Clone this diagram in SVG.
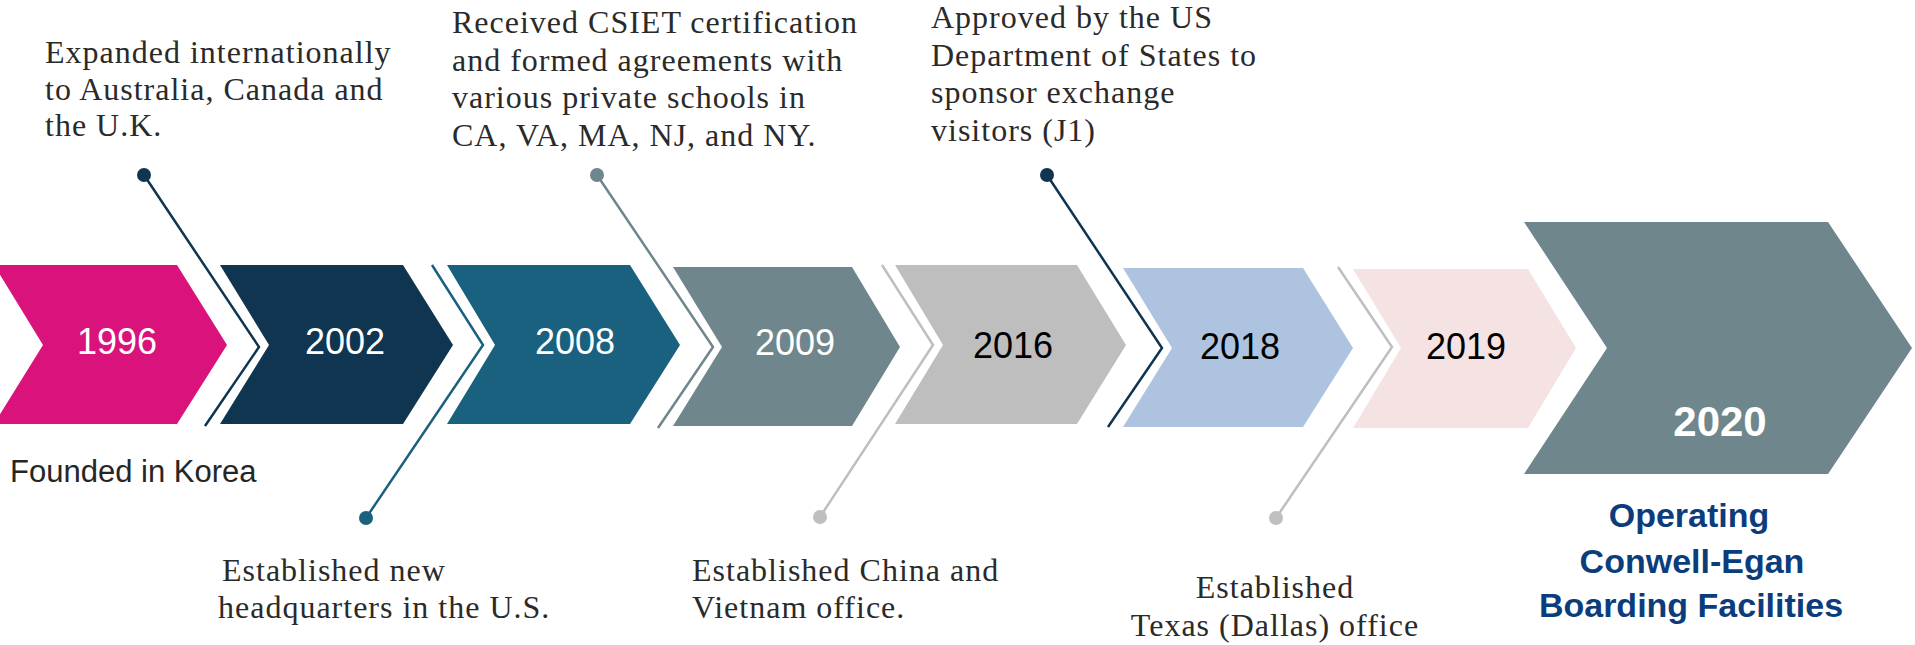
<svg xmlns="http://www.w3.org/2000/svg" width="1915" height="645" viewBox="0 0 1915 645">
<style>
.yr{font-family:"Liberation Sans",Arial,sans-serif;font-size:36px;text-anchor:middle}
.w{fill:#ffffff}
.k{fill:#000000}
.ser{font-family:"Liberation Serif","Times New Roman",serif;font-size:32px;letter-spacing:1px;fill:#2a2a2a}
.sans{font-family:"Liberation Sans",Arial,sans-serif;font-size:31px;fill:#262626}
.op{font-family:"Liberation Sans",Arial,sans-serif;font-size:34px;font-weight:bold;fill:#0B3D7C;text-anchor:middle}
.ln{fill:none;stroke-width:2.5;stroke-linejoin:miter}
</style>
<rect width="1915" height="645" fill="#ffffff"/>
<g id="n1996">
<polygon points="-6,265 177,265 227,345 177,424 -6,424 43,345" fill="#D9127C"/>
<text class="yr w" x="117" y="354">1996</text>
</g>
<g id="n2002">
<polygon points="220,265 403,265 453,345 403,424 220,424 269,345" fill="#0F3550"/>
<text class="yr w" x="345" y="354">2002</text>
</g>
<g id="n2008">
<polygon points="447,265 630,265 680,345 630,424 447,424 495,345" fill="#1A617F"/>
<text class="yr w" x="575" y="354">2008</text>
</g>
<g id="n2009">
<polygon points="673,267 852,267 900,347 852,426 673,426 722,347" fill="#6F868C"/>
<text class="yr w" x="795" y="355">2009</text>
</g>
<g id="n2016">
<polygon points="895,265 1077,265 1126,345 1077,424 895,424 943,345" fill="#BEBEBE"/>
<text class="yr k" x="1013" y="358">2016</text>
</g>
<g id="n2018">
<polygon points="1123,268 1303,268 1353,348 1303,427 1123,427 1172,348" fill="#ADC3E0"/>
<text class="yr k" x="1240" y="359">2018</text>
</g>
<g id="n2019">
<polygon points="1353,269 1528,269 1576,348 1528,428 1353,428 1401,348" fill="#F5E2E3"/>
<text class="yr k" x="1466" y="359">2019</text>
</g>
<g id="n2020">
<polygon points="1524,222 1828,222 1912,348 1828,474 1524,474 1607,348" fill="#6F868C"/>
<text class="yr w" x="1720" y="436" style="font-size:42px;font-weight:bold">2020</text>
</g>
<g id="connectors">
<polyline class="ln" stroke="#0F3550" points="144,175 259,347 205,426"/>
<circle cx="144" cy="175" r="7" fill="#0F3550"/>
<polyline class="ln" stroke="#1A617F" points="366,518 483,345 432,265"/>
<circle cx="366" cy="518" r="7" fill="#1A617F"/>
<polyline class="ln" stroke="#6F868C" points="597,175 713,347 658,428"/>
<circle cx="597" cy="175" r="7" fill="#6F868C"/>
<polyline class="ln" stroke="#BFBFBF" points="820,517 933,345 882,265"/>
<circle cx="820" cy="517" r="7" fill="#BFBFBF"/>
<polyline class="ln" stroke="#0F3550" points="1047,175 1162,348 1108,427"/>
<circle cx="1047" cy="175" r="7" fill="#0F3550"/>
<polyline class="ln" stroke="#BFBFBF" points="1276,518 1392,347 1338,267"/>
<circle cx="1276" cy="518" r="7" fill="#BFBFBF"/>
</g>
<g id="label1996">
<text class="sans" x="10" y="482">Founded in Korea</text>
</g>
<g id="label2002">
<text class="ser" x="45" y="63">Expanded internationally</text>
<text class="ser" x="45" y="100">to Australia, Canada and</text>
<text class="ser" x="45" y="136">the U.K.</text>
</g>
<g id="label2008">
<text class="ser" x="222" y="581">Established new</text>
<text class="ser" x="218" y="618">headquarters in the U.S.</text>
</g>
<g id="label2009">
<text class="ser" x="452" y="33">Received CSIET certification</text>
<text class="ser" x="452" y="71">and formed agreements with</text>
<text class="ser" x="452" y="108">various private schools in</text>
<text class="ser" x="452" y="146">CA, VA, MA, NJ, and NY.</text>
</g>
<g id="label2016">
<text class="ser" x="692" y="581">Established China and</text>
<text class="ser" x="692" y="618">Vietnam office.</text>
</g>
<g id="label2018">
<text class="ser" x="931" y="28">Approved by the US</text>
<text class="ser" x="931" y="66">Department of States to</text>
<text class="ser" x="931" y="103">sponsor exchange</text>
<text class="ser" x="931" y="141">visitors (J1)</text>
</g>
<g id="label2019">
<text class="ser" x="1275" y="598" text-anchor="middle">Established</text>
<text class="ser" x="1275" y="636" text-anchor="middle">Texas (Dallas) office</text>
</g>
<g id="label2020">
<text class="op" x="1689" y="527">Operating</text>
<text class="op" x="1692" y="573">Conwell-Egan</text>
<text class="op" x="1691" y="617">Boarding Facilities</text>
</g>
</svg>
